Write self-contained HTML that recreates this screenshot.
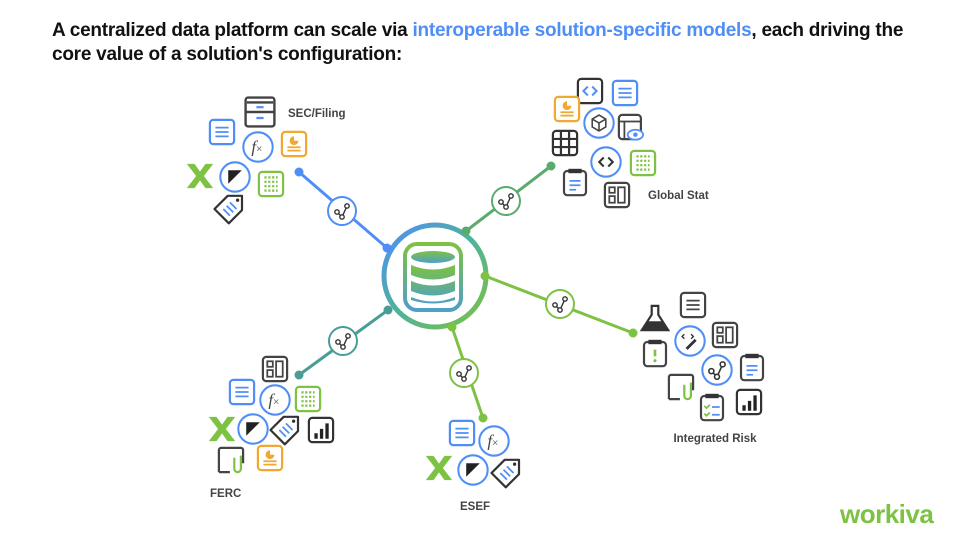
<!DOCTYPE html>
<html><head><meta charset="utf-8"><style>
body{margin:0;width:959px;height:540px;background:#fff;overflow:hidden;font-family:"Liberation Sans",sans-serif}
.t{position:absolute;left:52px;top:19px;font-size:19px;font-weight:bold;color:#111;line-height:24px;letter-spacing:-0.25px}
.t span{color:#4f8ef7}
</style></head><body>
<div class="t">A centralized data platform can scale via <span>interoperable solution-specific models</span>, each driving the<br>core value of a solution's configuration:</div>
<svg width="959" height="540" style="position:absolute;left:0;top:0" font-family="Liberation Sans, sans-serif">
<defs>
<linearGradient id="g" x1="0" y1="0" x2="1" y2="1"><stop offset="0" stop-color="#4f8ef7"/><stop offset="0.5" stop-color="#4fb39a"/><stop offset="1" stop-color="#7dc242"/></linearGradient>
<linearGradient id="g2" x1="0" y1="0" x2="0" y2="1"><stop offset="0" stop-color="#7dc242"/><stop offset="1" stop-color="#4f9fc8"/></linearGradient>
<symbol id="hub" viewBox="-14 -14 28 28" overflow="visible"><circle r="14" fill="#fff" stroke="currentColor" stroke-width="2"/><g fill="#fff" stroke="#333" stroke-width="1.4"><path d="M-5 1 L0 6 L5 -5"/><circle cx="-5" cy="1" r="2.2"/><circle cx="0" cy="6" r="2.2"/><circle cx="5" cy="-5" r="2.2"/></g></symbol>
<symbol id="doc" viewBox="-10 -10 20 20" overflow="visible"><rect x="-11" y="-11" width="22" height="22" rx="3" fill="#fff" stroke="#4f8ef7" stroke-width="2"/><path d="M-6 -4h12M-6 0h12M-6 4h12" stroke="#4f8ef7" stroke-width="1.6"/></symbol>
<symbol id="ldoc" viewBox="-10 -10 20 20" overflow="visible"><rect x="-11" y="-11" width="22" height="22" rx="3" fill="#fff" stroke="#444" stroke-width="2"/><path d="M-6 -4h12M-6 0h12M-6 4h12" stroke="#444" stroke-width="1.6"/></symbol>
<symbol id="cab" viewBox="-10 -10 20 20" overflow="visible"><rect x="-12" y="-12" width="24" height="24" rx="2" fill="#fff" stroke="#444" stroke-width="2"/><path d="M-12 0h24M-11 -8h22" stroke="#444" stroke-width="2"/><path d="M-3 -4h6M-3 5h6" stroke="#4f8ef7" stroke-width="1.8"/></symbol>
<symbol id="fx" viewBox="-11.5 -11.5 23 23" overflow="visible"><circle r="13" fill="#fff" stroke="#4f8ef7" stroke-width="1.8"/><text x="-1" y="5" font-size="15" font-style="italic" fill="#444" font-family="Liberation Serif, serif" text-anchor="middle">f<tspan font-size="10" font-style="normal">×</tspan></text></symbol>
<symbol id="chart" viewBox="-10 -10 20 20" overflow="visible"><rect x="-11" y="-11" width="22" height="22" rx="3" fill="#fff" stroke="#f0a830" stroke-width="2"/><path d="M0 -7a4 4 0 1 0 4 4h-4z" fill="#f0a830"/><path d="M-6 3h12M-6 6h12" stroke="#f0a830" stroke-width="1.6"/></symbol>
<symbol id="x" viewBox="-10 -10 20 20" overflow="visible"><path d="M-12 -11h7l5 7 5 -7h7l-8.5 11 8.5 11h-7l-5 -7 -5 7h-7l8.5 -11z" fill="#7dc242"/></symbol>
<symbol id="tri" viewBox="-11.5 -11.5 23 23" overflow="visible"><circle r="13" fill="#fff" stroke="#4f8ef7" stroke-width="1.8"/><path d="M-6 -6h12l-12 12z" fill="#222"/></symbol>
<symbol id="grid" viewBox="-10 -10 20 20" overflow="visible"><rect x="-11" y="-11" width="22" height="22" rx="3" fill="#fff" stroke="#7dc242" stroke-width="2"/><path d="M-6 -6h12M-6 -2h12M-6 2h12M-6 6h12" stroke="#7dc242" stroke-width="2" stroke-dasharray="2 1.5"/></symbol>
<symbol id="tag" viewBox="-10 -10 20 20" overflow="visible"><path d="M-3 -12h13v13l-12 12 -13 -13z" fill="#fff" stroke="#333" stroke-width="2" stroke-linejoin="round"/><circle cx="6" cy="-8" r="1.5" fill="#333"/><path d="M-7 0l6 6M-4 -3l6 6M-1 -6l6 6" stroke="#4f8ef7" stroke-width="1.6"/></symbol>
<symbol id="code" viewBox="-10 -10 20 20" overflow="visible"><rect x="-11" y="-11" width="22" height="22" rx="3" fill="#fff" stroke="#333" stroke-width="2"/><path d="M-2 -4l-4 4 4 4M2 -4l4 4 -4 4" fill="none" stroke="#4f8ef7" stroke-width="1.8"/></symbol>
<symbol id="cube" viewBox="-11.5 -11.5 23 23" overflow="visible"><circle r="13" fill="#fff" stroke="#4f8ef7" stroke-width="1.8"/><path d="M0 -7l6 3.5v7L0 7l-6 -3.5v-7zM-6 -3.5L0 0l6 -3.5M0 0v7" fill="none" stroke="#444" stroke-width="1.4"/></symbol>
<symbol id="ccode" viewBox="-11.5 -11.5 23 23" overflow="visible"><circle r="13" fill="#fff" stroke="#4f8ef7" stroke-width="1.8"/><path d="M-2 -4l-4 4 4 4M2 -4l4 4 -4 4" fill="none" stroke="#333" stroke-width="1.8"/></symbol>
<symbol id="teye" viewBox="-10 -10 20 20" overflow="visible"><rect x="-11" y="-11" width="20" height="22" rx="3" fill="#fff" stroke="#444" stroke-width="2"/><path d="M-11 -5h20M-6 -5v16" stroke="#444" stroke-width="1.6"/><ellipse cx="4" cy="7" rx="7" ry="4.5" fill="#fff" stroke="#4f8ef7" stroke-width="1.6"/><circle cx="4" cy="7" r="2" fill="#4f8ef7"/></symbol>
<symbol id="dgrid" viewBox="-10 -10 20 20" overflow="visible"><rect x="-11" y="-11" width="22" height="22" rx="3" fill="#fff" stroke="#333" stroke-width="2"/><path d="M-11 -3.7h22M-11 3.7h22M-3.7 -11v22M3.7 -11v22" stroke="#333" stroke-width="2"/></symbol>
<symbol id="clip" viewBox="-10 -10 20 20" overflow="visible"><rect x="-10" y="-10" width="20" height="22" rx="3" fill="#fff" stroke="#444" stroke-width="2"/><rect x="-6" y="-12" width="12" height="4" fill="#333"/><path d="M-5 -1h10M-5 3h10M-5 7h6" stroke="#4f8ef7" stroke-width="1.6"/></symbol>
<symbol id="lay" viewBox="-10 -10 20 20" overflow="visible"><rect x="-11" y="-11" width="22" height="22" rx="3" fill="#fff" stroke="#444" stroke-width="2"/><rect x="-7" y="-7" width="5" height="5" fill="none" stroke="#444" stroke-width="1.6"/><rect x="-7" y="1" width="5" height="6" fill="none" stroke="#444" stroke-width="1.6"/><rect x="1" y="-7" width="6" height="14" fill="none" stroke="#444" stroke-width="1.6"/></symbol>
<symbol id="flask" viewBox="-10 -10 20 20" overflow="visible"><path d="M-4 -11h8M-3 -11v8l-9 14h24l-9 -14v-8" fill="#fff" stroke="#333" stroke-width="2"/><path d="M-7 3h14l5 8h-24z" fill="#333"/></symbol>
<symbol id="clipex" viewBox="-10 -10 20 20" overflow="visible"><rect x="-10" y="-10" width="20" height="22" rx="3" fill="#fff" stroke="#444" stroke-width="2"/><rect x="-6" y="-12" width="12" height="4" fill="#333"/><path d="M0 -3v6" stroke="#7dc242" stroke-width="2.4"/><circle cx="0" cy="7" r="1.4" fill="#7dc242"/></symbol>
<symbol id="pen" viewBox="-11.5 -11.5 23 23" overflow="visible"><circle r="13" fill="#fff" stroke="#4f8ef7" stroke-width="1.8"/><path d="M-5 -6l-2 2 2 2M1 -6l2 2 -2 2" fill="none" stroke="#333" stroke-width="1.2"/><path d="M-3 7l8 -8" stroke="#333" stroke-width="2.5"/></symbol>
<symbol id="bhub" viewBox="-11.5 -11.5 23 23" overflow="visible"><circle r="13" fill="#fff" stroke="#4f8ef7" stroke-width="1.8"/><g fill="#fff" stroke="#333" stroke-width="1.4"><path d="M-5 1 L0 6 L5 -5"/><circle cx="-5" cy="1" r="2.2"/><circle cx="0" cy="6" r="2.2"/><circle cx="5" cy="-5" r="2.2"/></g></symbol>
<symbol id="pclip" viewBox="-10 -10 20 20" overflow="visible"><path d="M-11 11v-20a2 2 0 0 1 2 -2h18a2 2 0 0 1 2 2v12M-11 11h10" fill="none" stroke="#444" stroke-width="2"/><path d="M3 -2v10a3 3 0 0 0 6 0v-12" fill="none" stroke="#7dc242" stroke-width="2"/></symbol>
<symbol id="check" viewBox="-10 -10 20 20" overflow="visible"><rect x="-10" y="-10" width="20" height="22" rx="3" fill="#fff" stroke="#444" stroke-width="2"/><rect x="-6" y="-12" width="12" height="4" fill="#333"/><path d="M-7 -1l2 2 3 -3M-7 6l2 2 3 -3" fill="none" stroke="#7dc242" stroke-width="1.6"/><path d="M0 0h7M0 7h7" stroke="#4f8ef7" stroke-width="1.6"/></symbol>
<symbol id="bars" viewBox="-10 -10 20 20" overflow="visible"><rect x="-11" y="-11" width="22" height="22" rx="3" fill="#fff" stroke="#333" stroke-width="2"/><path d="M-6 3h3v5h-3zM-1 -1h3v9h-3zM4 -6h3v14h-3z" fill="#222"/></symbol>
</defs>

<g stroke-width="3" stroke-linecap="round">
<line x1="299" y1="172" x2="387" y2="248" stroke="#4f8ef7"/>
<line x1="551" y1="166" x2="466" y2="231" stroke="#5aab6e"/>
<line x1="485" y1="276" x2="633" y2="333" stroke="#7dc242"/>
<line x1="388" y1="310" x2="299" y2="375" stroke="#4a9d96"/>
<line x1="452" y1="327" x2="483" y2="418" stroke="#7dc242"/>
</g>
<circle cx="299" cy="172" r="4.5" fill="#4f8ef7"/>
<circle cx="551" cy="166" r="4.5" fill="#5aab6e"/>
<circle cx="633" cy="333" r="4.5" fill="#7dc242"/>
<circle cx="299" cy="375" r="4.5" fill="#4a9d96"/>
<circle cx="483" cy="418" r="4.5" fill="#7dc242"/>

<circle cx="435" cy="276" r="51" fill="#fff" stroke="url(#g)" stroke-width="5"/>
<circle cx="387" cy="248" r="4.5" fill="#4f8ef7"/><circle cx="485" cy="276" r="4.5" fill="#7dc242"/><circle cx="452" cy="327" r="4.5" fill="#7dc242"/><circle cx="466" cy="231" r="4.5" fill="#5aab6e"/><circle cx="388" cy="310" r="4.5" fill="#4a9d96"/>
<g>
<rect x="405" y="244" width="56" height="66" rx="12" fill="none" stroke="url(#g2)" stroke-width="4"/>
<ellipse cx="433" cy="257" rx="22" ry="6" fill="url(#g2)"/>
<path d="M411 265q22 9 44 0v10q-22 9 -44 0z M411 281q22 9 44 0v10q-22 9 -44 0z M411 297q22 9 44 0v3q-22 7 -44 0z" fill="url(#g2)"/>
</g>

<use href="#hub" x="328" y="197" width="28" height="28" color="#4f8ef7"/>
<use href="#hub" x="492" y="187" width="28" height="28" color="#5aab6e"/>
<use href="#hub" x="546" y="290" width="28" height="28" color="#7dc242"/>
<use href="#hub" x="329" y="327" width="28" height="28" color="#4a9d96"/>
<use href="#hub" x="450" y="359" width="28" height="28" color="#7dc242"/>

<use href="#cab" x="248" y="100" width="24" height="24"/>
<use href="#doc" x="211" y="121" width="22" height="22"/>
<use href="#fx" x="245" y="134" width="26" height="26"/>
<use href="#chart" x="283" y="133" width="22" height="22"/>
<use href="#x" x="189" y="165" width="22" height="22"/>
<use href="#tri" x="222" y="164" width="26" height="26"/>
<use href="#grid" x="260" y="173" width="22" height="22"/>
<use href="#tag" x="220" y="198" width="22" height="22"/>
<text x="288" y="117" font-size="11.5" font-weight="bold" fill="#444">SEC/Filing</text>

<use href="#code" x="579" y="80" width="22" height="22"/>
<use href="#doc" x="614" y="82" width="22" height="22"/>
<use href="#chart" x="556" y="98" width="22" height="22"/>
<use href="#cube" x="586" y="110" width="26" height="26"/>
<use href="#teye" x="620" y="116" width="22" height="22"/>
<use href="#dgrid" x="554" y="132" width="22" height="22"/>
<use href="#ccode" x="593" y="149" width="26" height="26"/>
<use href="#grid" x="632" y="152" width="22" height="22"/>
<use href="#clip" x="564" y="171" width="22" height="22"/>
<use href="#lay" x="606" y="184" width="22" height="22"/>
<text x="648" y="199" font-size="11.5" font-weight="bold" fill="#444">Global Stat</text>

<use href="#flask" x="644" y="307" width="22" height="22"/>
<use href="#ldoc" x="682" y="294" width="22" height="22"/>
<use href="#clipex" x="644" y="342" width="22" height="22"/>
<use href="#pen" x="677" y="328" width="26" height="26"/>
<use href="#lay" x="714" y="324" width="22" height="22"/>
<use href="#bhub" x="704" y="357" width="26" height="26"/>
<use href="#clip" x="741" y="356" width="22" height="22"/>
<use href="#pclip" x="670" y="376" width="22" height="22"/>
<use href="#check" x="701" y="396" width="22" height="22"/>
<use href="#bars" x="738" y="391" width="22" height="22"/>
<text x="715" y="442" font-size="11.5" font-weight="bold" fill="#444" text-anchor="middle">Integrated Risk</text>

<use href="#lay" x="264" y="358" width="22" height="22"/>
<use href="#doc" x="231" y="381" width="22" height="22"/>
<use href="#fx" x="262" y="387" width="26" height="26"/>
<use href="#grid" x="297" y="388" width="22" height="22"/>
<use href="#x" x="211" y="418" width="22" height="22"/>
<use href="#tri" x="240" y="416" width="26" height="26"/>
<use href="#tag" x="276" y="419" width="22" height="22"/>
<use href="#bars" x="310" y="419" width="22" height="22"/>
<use href="#pclip" x="220" y="449" width="22" height="22"/>
<use href="#chart" x="259" y="447" width="22" height="22"/>
<text x="210" y="497" font-size="11.5" font-weight="bold" fill="#444">FERC</text>

<use href="#doc" x="451" y="422" width="22" height="22"/>
<use href="#fx" x="481" y="428" width="26" height="26"/>
<use href="#x" x="428" y="457" width="22" height="22"/>
<use href="#tri" x="460" y="457" width="26" height="26"/>
<use href="#tag" x="497" y="462" width="22" height="22"/>
<text x="460" y="510" font-size="11.5" font-weight="bold" fill="#444">ESEF</text>

<text x="840" y="523" font-size="26" font-weight="bold" fill="#7dc242" letter-spacing="-0.5">workiva</text>
</svg>
</body></html>
